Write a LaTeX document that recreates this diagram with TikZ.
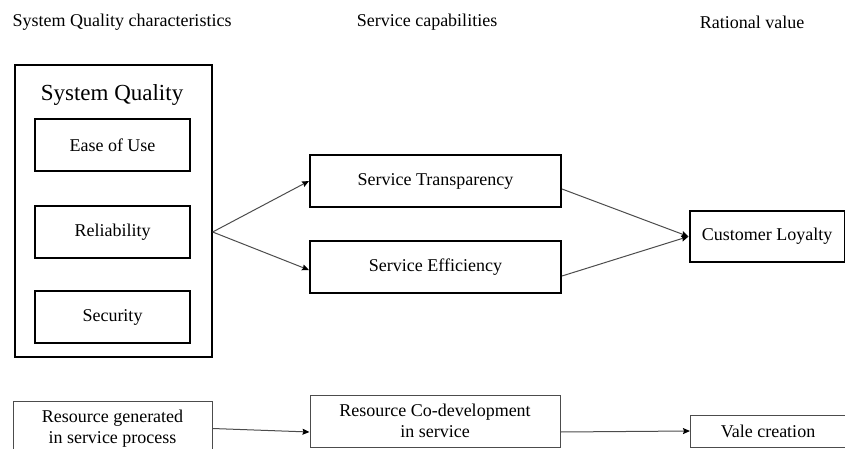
\documentclass[tikz,border=0pt]{standalone}
\usepackage{fontspec}
\setmainfont{Liberation Serif}
\usetikzlibrary{arrows.meta, positioning}

\begin{document}
\begin{tikzpicture}[
    x=1pt, y=-1pt,
    font=\fontsize{18}{21}\selectfont,
    header/.style={inner sep=0pt},
    group/.style={rectangle, draw=black, line width=1.3pt, minimum width=197pt, minimum height=292pt},
    module/.style={rectangle, draw=black, line width=2pt, minimum width=155pt, minimum height=52pt, align=center},
    block/.style={rectangle, draw=black, line width=2pt, minimum width=251pt, minimum height=52pt, align=center},
    resbox/.style={rectangle, draw=black!70, line width=1pt, align=center, inner sep=0pt},
    arrow/.style={-{Stealth[length=7pt, width=6pt, inset=1pt, black]}, line width=1pt, draw=black!70}
]
\useasboundingbox (0,0) rectangle (845,449);

% Column headers
\node[header] (head_sq) at (122,22) {System Quality characteristics};
\node[header] (head_sc) at (427,22) {Service capabilities};
\node[header] (head_rv) at (752,22) {Rational value};

% System Quality
\node[group] (sq) at (113.5,211) {};
\node[header, font=\fontsize{23}{26}\selectfont] (sq_title) at (112,95) {System Quality};
\node[module] (ease) at (112.5,145) {Ease of Use};
\node[module, below=33pt of ease] (rel) {Reliability};
\node[module, below=31pt of rel] (sec) {Security};

% Service capabilities
\node[block] (trans) at (435.5,181) {Service Transparency};
\node[block, below=32pt of trans] (eff) {Service Efficiency};

% Rational value
\node[module, minimum height=51pt] (loyal) at (767,236.5) {Customer Loyalty};

\draw[arrow] (sq.east |- rel.east) -- (trans.west);
\draw[arrow] (sq.east |- rel.east) -- ([yshift=-3pt]eff.west);
\draw[arrow] ([yshift=-8pt]trans.east) -- (loyal.west);
\draw[arrow] ([yshift=-9pt]eff.east) -- (loyal.west);

% Resource row
\node[resbox, minimum width=199pt, minimum height=55pt] (gen) at (112.5,428.5) {Resource generated\\in service process};
\node[resbox, minimum width=250pt, minimum height=52pt] (codev) at (435,421) {Resource Co-development\\in service};
\node[resbox, minimum width=155pt, minimum height=32pt] (vale) at (768,431) {Vale creation};

\draw[arrow] (gen.east) -- ([yshift=-11pt]codev.west);
\draw[arrow] ([yshift=-11pt]codev.east) -- (vale.west);

\end{tikzpicture}
\end{document}
